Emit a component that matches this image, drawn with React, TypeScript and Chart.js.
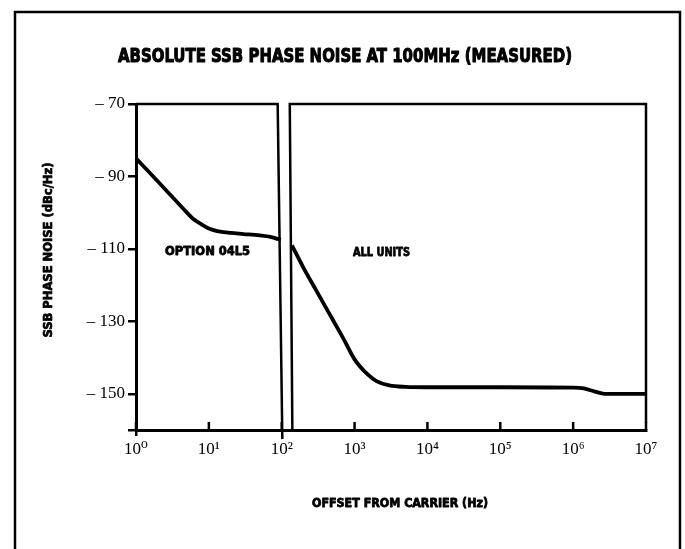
import React, { useEffect, useRef } from 'react';
import { Chart, registerables } from 'chart.js';

Chart.register(...registerables);

// ---- data ----
const optionFreq = [1, 2, 3, 5, 6, 8, 10, 13, 20, 30, 50, 70, 97];
const optionNoise = [-85, -91.4, -95.2, -100, -101.6, -103.3, -104.4, -105.1, -105.6, -105.9, -106.3, -106.7, -107.5];

const allUnitsFreq = [138, 200, 300, 500, 700, 1000, 1500, 2000, 3000, 5000, 10000, 100000, 1000000, 1400000, 2000000, 2700000, 10000000];
const allUnitsNoise = [-109, -115.3, -121.6, -129.5, -134.7, -140.5, -144.6, -146.5, -147.7, -148.1, -148.2, -148.2, -148.3, -148.5, -149.4, -150, -150];

const optionBoxFreq = [1, 88, 102];
const optionBoxLevel = [-70, -70, -162.5];
const allUnitsBoxFreq = [140, 129, 10000000, 10000000];
const allUnitsBoxLevel = [-160, -70, -70, -158];

const xTickValues = [1, 10, 100, 1000, 10000, 100000, 1000000, 10000000];
const xTickLabels = ['10⁰', '10¹', '10²', '10³', '10⁴', '10⁵', '10⁶', '10⁷'];
const yTickValues = [-160, -150, -130, -110, -90, -70];
const yTickLabels = ['', '– 150', '– 130', '– 110', '– 90', '– 70'];

const titleText = 'ABSOLUTE SSB PHASE NOISE AT 100MHz (MEASURED)';
const yTitleText = 'SSB PHASE NOISE (dBc/Hz)';
const xTitleText = 'OFFSET FROM CARRIER (Hz)';
const optionLabel = 'OPTION 04L5';
const allUnitsLabel = 'ALL UNITS';
const optionLabelAt = { freq: 9.6, level: -110.8 };
const allUnitsLabelAt = { freq: 2340, level: -111 };

const CONDENSED = '"DejaVu Sans Condensed", "Liberation Sans Narrow", "DejaVu Sans", sans-serif';
const SERIF = '"Liberation Serif", "DejaVu Serif", serif';

function drawFitted(
  ctx: CanvasRenderingContext2D,
  text: string,
  cx: number,
  cy: number,
  width: number,
  font: string,
  rotate = 0,
  heavy = 0.8,
) {
  ctx.save();
  ctx.font = font;
  ctx.fillStyle = '#000';
  ctx.strokeStyle = '#000';
  ctx.lineJoin = 'round';
  ctx.textAlign = 'center';
  ctx.textBaseline = 'middle';
  const w = ctx.measureText(text).width;
  ctx.translate(cx, cy);
  if (rotate) ctx.rotate(rotate);
  const sx = width / w;
  ctx.scale(sx, 1);
  ctx.fillText(text, 0, 0);
  if (heavy > 0) {
    ctx.lineWidth = heavy;
    ctx.strokeText(text, 0, 0);
  }
  ctx.restore();
}

const decorPlugin = {
  id: 'decor',
  beforeDraw(chart: any) {
    const ctx = chart.ctx as CanvasRenderingContext2D;
    ctx.save();
    ctx.fillStyle = '#fff';
    ctx.fillRect(0, 0, chart.width, chart.height);
    ctx.strokeStyle = '#000';
    ctx.lineWidth = 2.5;
    ctx.beginPath();
    ctx.moveTo(15, 560);
    ctx.lineTo(15, 12);
    ctx.lineTo(680, 12);
    ctx.lineTo(680, 560);
    ctx.stroke();
    ctx.restore();
  },
  afterDraw(chart: any) {
    const ctx = chart.ctx as CanvasRenderingContext2D;
    const xs = chart.scales.x;
    const ys = chart.scales.y;
    const bottom = chart.chartArea.bottom;
    ctx.save();
    ctx.strokeStyle = '#000';
    ctx.lineWidth = 2.5;
    xs.ticks.forEach((t: any) => {
      const px = xs.getPixelForValue(t.value);
      ctx.beginPath();
      ctx.moveTo(px, bottom);
      ctx.lineTo(px, bottom - 8);
      ctx.stroke();
    });
    ctx.restore();

    drawFitted(ctx, titleText, 345, 57, 454, `bold 20px ${CONDENSED}`, 0, 1);
    drawFitted(ctx, yTitleText, 49, 250, 175, `bold 12px ${CONDENSED}`, -Math.PI / 2, 0.7);
    drawFitted(ctx, xTitleText, 400, 504, 176, `bold 13px ${CONDENSED}`, 0, 0.8);
    drawFitted(ctx, optionLabel, xs.getPixelForValue(optionLabelAt.freq), ys.getPixelForValue(optionLabelAt.level), 85, `bold 13px ${CONDENSED}`, 0, 0.8);
    drawFitted(ctx, allUnitsLabel, xs.getPixelForValue(allUnitsLabelAt.freq), ys.getPixelForValue(allUnitsLabelAt.level), 57, `bold 13px ${CONDENSED}`, 0, 0.8);
  },
};

export default function App() {
  const ref = useRef<HTMLCanvasElement | null>(null);

  useEffect(() => {
    if (!ref.current) return;
    const toPts = (xs: number[], ys: number[]) => xs.map((x, i) => ({ x, y: ys[i] }));
    const chart = new Chart(ref.current, {
      type: 'line',
      data: {
        datasets: [
          {
            label: 'Option 04L5',
            data: toPts(optionFreq, optionNoise),
            borderColor: '#000',
            borderWidth: 3.8,
            pointRadius: 0,
            cubicInterpolationMode: 'monotone',
            clip: false,
          },
          {
            label: 'All units',
            data: toPts(allUnitsFreq, allUnitsNoise),
            borderColor: '#000',
            borderWidth: 3.8,
            pointRadius: 0,
            cubicInterpolationMode: 'monotone',
            clip: false,
          },
          {
            label: 'Option box',
            data: toPts(optionBoxFreq, optionBoxLevel),
            borderColor: '#000',
            borderWidth: 2.5,
            pointRadius: 0,
            tension: 0,
            clip: false,
          },
          {
            label: 'All units box',
            data: toPts(allUnitsBoxFreq, allUnitsBoxLevel),
            borderColor: '#000',
            borderWidth: 2.5,
            pointRadius: 0,
            tension: 0,
            clip: false,
          },
        ],
      },
      options: {
        animation: false,
        responsive: false,
        devicePixelRatio: 1,
        layout: { padding: { top: 104, right: 39, left: 0, bottom: 0 } },
        plugins: {
          legend: { display: false },
          tooltip: { enabled: false },
          title: { display: false },
        },
        scales: {
          x: {
            type: 'logarithmic',
            min: 1,
            max: 10000000,
            afterBuildTicks: (scale: any) => {
              scale.ticks = xTickValues.map((v) => ({ value: v }));
            },
            afterFit: (scale: any) => {
              scale.height = 119;
            },
            ticks: {
              autoSkip: false,
              maxRotation: 0,
              padding: 3,
              color: '#000',
              font: { family: SERIF, size: 17 },
              callback: (v: any) => {
                const i = xTickValues.indexOf(Number(v));
                return i >= 0 ? xTickLabels[i] : '';
              },
            },
            grid: {
              drawOnChartArea: false,
              tickLength: 6,
              lineWidth: 2.5,
              tickColor: (c: any) => (c.index === 0 ? '#000' : 'rgba(0,0,0,0)'),
            },
            border: { display: true, color: '#000', width: 3 },
          },
          y: {
            type: 'linear',
            min: -160,
            max: -70,
            afterBuildTicks: (scale: any) => {
              scale.ticks = yTickValues.map((v) => ({ value: v }));
            },
            afterFit: (scale: any) => {
              scale.width = 136;
            },
            ticks: {
              autoSkip: false,
              padding: 3,
              color: '#000',
              font: { family: SERIF, size: 17 },
              callback: (v: any) => {
                const i = yTickValues.indexOf(Number(v));
                return i >= 0 ? yTickLabels[i] : '';
              },
            },
            grid: {
              drawOnChartArea: false,
              tickLength: 8,
              lineWidth: 2.5,
              color: '#000',
            },
            border: { display: true, color: '#000', width: 3 },
          },
        },
      },
      plugins: [decorPlugin],
    } as any);
    return () => chart.destroy();
  }, []);

  return (
    <div style={{ position: 'fixed', left: 0, top: 0, width: 685, height: 549, background: '#fff' }}>
      <canvas ref={ref} width={685} height={549} style={{ width: 685, height: 549, display: 'block' }} />
    </div>
  );
}
